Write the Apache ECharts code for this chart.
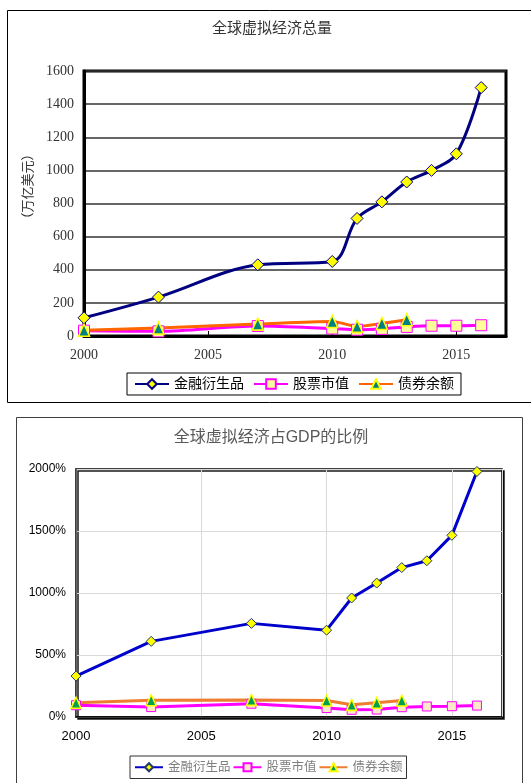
<!DOCTYPE html>
<html>
<head>
<meta charset="utf-8">
<script src="https://cdn.jsdelivr.net/npm/echarts@6/dist/echarts.min.js"></script>
<style>
html,body{margin:0;padding:0;background:#fff;}
#c{width:531px;height:783px;}
</style>
</head>
<body>
<div id="c"></div>
<script>
// ---- data ----
const years = [2000, 2003, 2007, 2010, 2011, 2012, 2013, 2014, 2015, 2016];
const bondYears = [2000, 2003, 2007, 2010, 2011, 2012, 2013];
const seriesNames = ['金融衍生品', '股票市值', '债券余额'];
// top chart: totals (万亿美元)
const derivTotal = [110, 235, 430, 450, 710, 810, 930, 1000, 1100, 1500];
const stockTotal = [32, 28, 60, 45, 38, 43, 55, 62, 62, 65];
const bondTotal = [35, 48, 72, 88, 58, 76, 98];
// bottom chart: share of GDP (%)
const derivPct = [330, 610, 755, 700, 960, 1080, 1205, 1260, 1465, 1980];
const stockPct = [95, 80, 107, 72, 58, 60, 79, 85, 87, 92];
const bondPct = [115, 135, 138, 133, 98, 115, 133];
// axes
const xTickYears = [2000, 2005, 2010, 2015];
const topTitle = '全球虚拟经济总量';
const bottomTitle = '全球虚拟经济占GDP的比例';
const topYName = '（万亿美元）';

const pair = (xs, ys) => xs.map((x, i) => [x, ys[i]]);
const serifF = "'Liberation Serif', 'Noto Sans CJK SC', serif";
const sansF = "'Liberation Sans', 'Noto Sans CJK SC', sans-serif";
const PFX = 'b:';
const xFmt = v => (xTickYears.indexOf(v) >= 0 ? String(v) : '');

const chart = echarts.init(document.getElementById('c'), null, {renderer: 'canvas'});
chart.setOption({
  backgroundColor: '#fff',
  animation: false,
  graphic: [
    {type: 'rect', shape: {x: 7.5, y: 10.5, width: 540, height: 392}, style: {fill: null, stroke: '#000', lineWidth: 1}, z: -10},
    {type: 'rect', shape: {x: 16.5, y: 417.5, width: 506, height: 400}, style: {fill: null, stroke: '#404040', lineWidth: 1}, z: -10}
  ],
  title: [
    {text: topTitle, left: 272, top: 22, textAlign: 'center', padding: 0,
     textStyle: {fontFamily: serifF, fontSize: 15, fontWeight: 'normal', color: '#333'}},
    {text: bottomTitle, left: 271, top: 430, textAlign: 'center', padding: 0,
     textStyle: {fontFamily: sansF, fontSize: 16, fontWeight: 'normal', color: '#595959'}}
  ],
  legend: [
    {left: 127, top: 373, orient: 'horizontal', borderColor: '#000', borderWidth: 1,
     padding: [4, 7, 4, 7], itemGap: 9, itemWidth: 34, itemHeight: 12,
     textStyle: {fontFamily: serifF, fontSize: 14, color: '#000'},
     data: seriesNames.slice()},
    {left: 130, top: 756, orient: 'horizontal', borderColor: '#333', borderWidth: 1,
     padding: [5, 4, 5, 4], itemGap: 2, itemWidth: 28, itemHeight: 10,
     formatter: n => n.replace(PFX, ''),
     textStyle: {fontFamily: serifF, fontSize: 12.5, color: '#7f7f7f'},
     data: seriesNames.map(n => PFX + n)}
  ],
  grid: [
    {left: 84, top: 71, width: 422, height: 265, show: true, borderColor: '#000', borderWidth: 3, backgroundColor: '#fff'},
    {left: 76, top: 469, width: 426, height: 248, show: true, borderColor: '#000', borderWidth: 1.5, backgroundColor: '#fff',
     shadowColor: 'rgba(0,0,0,0.9)', shadowOffsetX: 2, shadowOffsetY: 2, shadowBlur: 0}
  ],
  xAxis: [
    {type: 'value', gridIndex: 0, min: 2000, max: 2017, interval: 5,
     axisLine: {show: true, onZero: false, lineStyle: {color: '#000', width: 3}},
     axisTick: {show: true, inside: true, length: 5, lineStyle: {color: '#000', width: 1}},
     axisLabel: {formatter: xFmt, showMaxLabel: false, margin: 12, fontFamily: serifF, fontSize: 14, color: '#333'},
     splitLine: {show: false}},
    {type: 'value', gridIndex: 1, min: 2000, max: 2017, interval: 5,
     axisLine: {show: true, onZero: false, lineStyle: {color: '#000', width: 1.5}},
     axisTick: {show: false},
     axisLabel: {formatter: xFmt, showMaxLabel: false, margin: 13, fontFamily: sansF, fontSize: 13, color: '#000'},
     splitLine: {show: true, lineStyle: {color: '#d9d9d9', width: 1}}}
  ],
  yAxis: [
    {type: 'value', gridIndex: 0, min: 0, max: 1600, interval: 200,
     name: topYName, nameLocation: 'middle', nameGap: 49,
     nameTextStyle: {fontFamily: serifF, fontSize: 13, color: '#333', padding: [0, 0, 0, 34]},
     axisLine: {show: true, lineStyle: {color: '#000', width: 3}},
     axisTick: {show: false},
     axisLabel: {margin: 10, formatter: v => String(v), fontFamily: serifF, fontSize: 14, color: '#333'},
     splitLine: {show: true, lineStyle: {color: '#333', width: 1.5}}},
    {type: 'value', gridIndex: 1, min: 0, max: 2000, interval: 500,
     axisLine: {show: true, lineStyle: {color: '#404040', width: 1.5}},
     axisTick: {show: false},
     axisLabel: {margin: 10, formatter: v => String(v) + '%', fontFamily: sansF, fontSize: 12, color: '#000'},
     splitLine: {show: true, lineStyle: {color: '#d9d9d9', width: 1}}}
  ],
  series: [
    {name: seriesNames[0], type: 'line', xAxisIndex: 0, yAxisIndex: 0, smooth: 0.35,
     data: pair(years, derivTotal), symbol: 'diamond', symbolSize: 12,
     lineStyle: {color: '#000080', width: 3}, itemStyle: {color: '#ffff00', borderColor: '#000080', borderWidth: 1}},
    {name: seriesNames[1], type: 'line', xAxisIndex: 0, yAxisIndex: 0, smooth: 0.3,
     data: pair(years, stockTotal), symbol: 'rect', symbolSize: 11,
     lineStyle: {color: '#ff00ff', width: 3}, itemStyle: {color: '#ffff99', borderColor: '#ff00ff', borderWidth: 1}},
    {name: seriesNames[2], type: 'line', xAxisIndex: 0, yAxisIndex: 0, smooth: 0.3,
     data: pair(bondYears, bondTotal), symbol: 'triangle', symbolSize: [11, 12],
     lineStyle: {color: '#ff6600', width: 3}, itemStyle: {color: '#008080', borderColor: '#ffff00', borderWidth: 1.5}},
    {name: PFX + seriesNames[0], type: 'line', xAxisIndex: 1, yAxisIndex: 1,
     data: pair(years, derivPct), symbol: 'diamond', symbolSize: 10,
     lineStyle: {color: '#0000cc', width: 3}, itemStyle: {color: '#ffff00', borderColor: '#1f3864', borderWidth: 1}},
    {name: PFX + seriesNames[1], type: 'line', xAxisIndex: 1, yAxisIndex: 1,
     data: pair(years, stockPct), symbol: 'rect', symbolSize: 9,
     lineStyle: {color: '#ff00ff', width: 3}, itemStyle: {color: '#fde9c9', borderColor: '#ff00ff', borderWidth: 1}},
    {name: PFX + seriesNames[2], type: 'line', xAxisIndex: 1, yAxisIndex: 1,
     data: pair(bondYears, bondPct), symbol: 'triangle', symbolSize: [10, 11],
     lineStyle: {color: '#ed7d31', width: 3}, itemStyle: {color: '#00a050', borderColor: '#ffff00', borderWidth: 1.5}}
  ]
});
</script>
</body>
</html>
